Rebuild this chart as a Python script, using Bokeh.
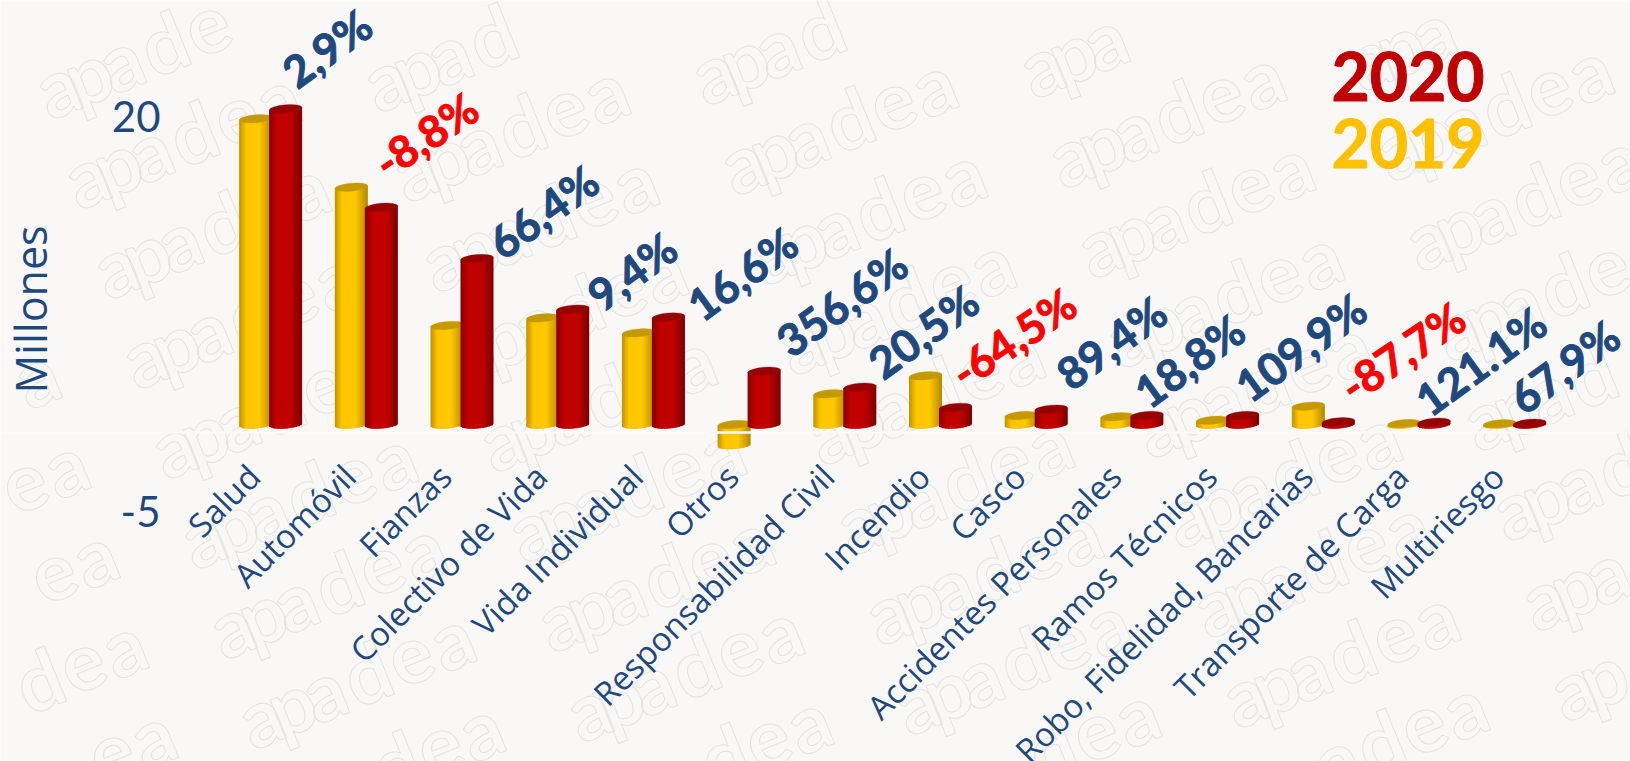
from math import pi, tan, sqrt, radians, cos, sin
from bokeh.plotting import figure
from bokeh.models import (ColumnDataSource, Range1d, LinearAxis, FixedTicker, Span)
from bokeh.core.properties import value
from bokeh.embed import file_html
from bokeh.resources import INLINE

categories = ["Salud", "Automóvil", "Fianzas", "Colectivo de Vida", "Vida Individual", "Otros",
              "Responsabilidad Civil", "Incendio", "Casco", "Accidentes Personales",
              "Ramos Técnicos", "Robo, Fidelidad, Bancarias", "Transporte de Carga", "Multiriesgo"]
values_2019 = [19.35, 15.02, 6.27, 6.75, 5.80, -1.30, 1.94, 3.08, 0.57, 0.49, 0.27, 1.16, 0.06, 0.05]
values_2020 = [19.98, 13.75, 10.50, 7.30, 6.80, 3.37, 2.36, 1.08, 0.97, 0.57, 0.57, 0.17, 0.14, 0.08]
growth = ["2,9%", "-8,8%", "66,4%", "9,4%", "16,6%", "356,6%", "20,5%", "-64,5%", "89,4%",
          "18,8%", "109,9%", "-87,7%", "121.1%", "67,9%"]
y_ticks = [20, -5]

# layout, in reference pixels (Bokeh's page template puts the figure at the page origin)
W, H = 1630, 761
GROUP_PX, X0_PX = 95.7, 270.1
UNIT_PX, Y0_PX = 15.8, 424.0
TICK_Y0_PX = 431.5
BG = "#F9F8F6"
NAVY = "#1F497D"

def xd(px):
    return (px - X0_PX) / GROUP_PX

def yd(py):
    return (Y0_PX - py) / UNIT_PX

p = figure(width=W, height=H, output_backend="svg", toolbar_location=None,
           x_range=Range1d(xd(0), xd(W)), y_range=Range1d(yd(H), yd(0)),
           background_fill_color=BG, border_fill_color=BG, outline_line_color=None,
           min_border=0, min_border_left=0, min_border_right=0, min_border_top=0, min_border_bottom=0,
           x_axis_type=None, y_axis_type=None)
p.grid.visible = False

# watermark: overlapping outlined letters repeated on a slanted lattice
WM_ANGLE = radians(22)
wm_letters = ["a", "p", "a", "d", "e", "a"]
wm_advance = [0, 30, 68, 112, 160, 206]
wm_x, wm_y, wm_t = [], [], []
for a in range(-3, 10):
    for b in range(-2, 8):
        ox, oy = 38 + 29 * a + 328 * b, 92 + 90 * a - 7 * b
        for ch, adv in zip(wm_letters, wm_advance):
            px, py = ox + adv * cos(WM_ANGLE), oy - adv * sin(WM_ANGLE)
            if -10 < px < W - 20 and 30 < py < H + 10:
                wm_x.append(xd(px))
                wm_y.append(yd(py))
                wm_t.append(ch)
p.text(x=wm_x, y=wm_y, text=wm_t, angle=WM_ANGLE, text_font=value("Lato"), text_font_style="bold",
       text_font_size="80px", text_color="rgba(249,248,246,0.02)", text_outline_color="#E4E3E1",
       text_align="left", text_baseline="alphabetic")

BAR_W = 33 / GROUP_PX
OFF = 15 / GROUP_PX
CAP_H = 8.0
TILT = radians(5)
STRIPS = 22

def lerp(c1, c2, t):
    return "#%02x%02x%02x" % tuple(int(round(a + (b - a) * t)) for a, b in zip(c1, c2))

def shade(stops, t):
    for (t0, c0), (t1, c1) in zip(stops, stops[1:]):
        if t <= t1:
            return lerp(c0, c1, (t - t0) / (t1 - t0))
    return lerp(stops[-1][1], stops[-1][1], 0)

Y_STOPS = [(0, (0xC0, 0x92, 0x00)), (0.22, (0xFF, 0xC6, 0x00)), (0.62, (0xFF, 0xC8, 0x00)), (1, (0xB4, 0x88, 0x00))]
R_STOPS = [(0, (0x86, 0x00, 0x00)), (0.22, (0xC0, 0x00, 0x00)), (0.62, (0xC4, 0x00, 0x00)), (1, (0x7C, 0x00, 0x00))]

def cylinders(vals, offset, stops, cap):
    d = dict(left=[], right=[], top=[], bottom=[], color=[])
    capx, capy = [], []
    for i, v in enumerate(vals):
        cx = i + offset
        hi, lo = max(v, 0), min(v, 0)
        for s in range(STRIPS):
            t0, t1 = s / STRIPS, (s + 1) / STRIPS
            tm = (t0 + t1) / 2
            u = 2 * tm - 1
            slope = u * (33 / 2) * tan(TILT) / UNIT_PX
            arc = (CAP_H / 2) * sqrt(max(1 - u * u, 0)) / UNIT_PX
            d["left"].append(cx - BAR_W / 2 + t0 * BAR_W)
            d["right"].append(cx - BAR_W / 2 + min(t1 + 0.7 / STRIPS, 1) * BAR_W)
            d["top"].append(hi + slope)
            d["bottom"].append(lo + slope - arc)
            d["color"].append(shade(stops, tm))
        capx.append(cx)
        capy.append(hi)
    p.quad(left="left", right="right", top="top", bottom="bottom", source=ColumnDataSource(d),
           fill_color="color", line_color=None)
    p.ellipse(x=capx, y=capy, width=BAR_W, height=CAP_H / UNIT_PX, angle=TILT,
              fill_color=cap, line_color=cap, line_width=0.3)

cylinders(values_2019, -OFF, Y_STOPS, "#C49A00")
cylinders(values_2020, OFF, R_STOPS, "#960000")

# floor line, seen as a pale band across the negative bar
p.add_layout(Span(location=yd(432), dimension="width", line_color="#FBFAF8", line_width=2.5))

# value axis, drawn on its own range because the labels sit below the 3D floor
p.extra_y_ranges["ticks"] = Range1d((TICK_Y0_PX - H) / UNIT_PX, TICK_Y0_PX / UNIT_PX)
yax = LinearAxis(y_range_name="ticks", ticker=FixedTicker(ticks=y_ticks), fixed_location=xd(171),
                 major_label_overrides={t: str(t) for t in y_ticks},
                 axis_line_color=None, major_tick_line_color=None, minor_tick_line_color=None,
                 major_label_text_color=NAVY, major_label_text_font="Lato",
                 major_label_text_font_size="42px", major_label_standoff=5)
p.add_layout(yax, "left")

# category axis, rotated labels
p.extra_x_ranges["cats"] = Range1d(xd(0) + 0.175, xd(W) + 0.175)
xax = LinearAxis(x_range_name="cats", ticker=FixedTicker(ticks=list(range(len(categories)))),
                 major_label_overrides={i: c for i, c in enumerate(categories)},
                 fixed_location=yd(464), axis_line_color=None, major_tick_line_color=None,
                 minor_tick_line_color=None, major_label_text_color=NAVY,
                 major_label_text_font="Open Sans", major_label_text_font_size="33px",
                 major_label_orientation=pi / 4, major_label_standoff=0)
p.add_layout(xax, "below")

# growth labels
label_px_x = [287, 378, 493, 592, 692, 781, 873, 955, 1061, 1139, 1240, 1344, 1420, 1514]
label_px_y = [76, 166, 247, 299, 309, 345, 367, 376, 378, 396, 390, 390, 404, 402]
label_colors = ["#FF0000" if g.startswith("-") else NAVY for g in growth]
p.text(x=[xd(v) for v in label_px_x], y=[yd(v) for v in label_px_y], text=growth,
       angle=[radians(34) if g.startswith("-") else radians(36) for g in growth],
       text_font=value("Lato"), text_font_style="bold", text_font_size="44px",
       text_color=label_colors, text_outline_color=label_colors,
       text_align="left", text_baseline="alphabetic")

# axis name and legend
p.text(x=[xd(30)], y=[yd(309)], text=["Millones"], angle=pi / 2, text_font=value("Open Sans"),
       text_font_size="43px", text_color=NAVY, text_align="center", text_baseline="alphabetic")
legend_colors = ["#C00000", "#FFC000"]
p.text(x=[xd(1331), xd(1331)], y=[yd(76), yd(143)], text=["2020", "2019"], text_font=value("Lato"),
       text_font_style="bold", text_font_size="66px", text_color=legend_colors,
       text_outline_color=legend_colors, text_align="left", text_baseline="alphabetic")

open("out.html", "w").write(file_html(p, INLINE))
